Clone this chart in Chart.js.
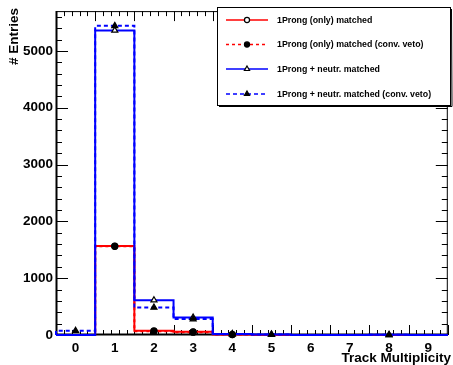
<!DOCTYPE html>
<html><head><meta charset="utf-8">
<script src="https://cdn.jsdelivr.net/npm/chart.js@4/dist/chart.umd.min.js"></script>
<style>html,body{margin:0;padding:0;background:#fff}#wrap{width:453px;height:365px}</style>
</head><body><div id="wrap"><canvas id="c" width="453" height="365"></canvas></div>
<script>
// ---- data ----
const categories = [0, 1, 2, 3, 4, 5, 6, 7, 8, 9];
const prongOnly = [0, 1565, 75, 55, 8, 0, 0, 0, 0, 0];
const prongOnlyVeto = [0, 1560, 65, 50, 7, 0, 0, 0, 0, 0];
const prongNeutr = [0, 5360, 612, 309, 18, 10, 0, 0, 3, 0];
const prongNeutrVeto = [75, 5440, 484, 280, 15, 8, 0, 0, 3, 0];
const seriesLabels = ['1Prong (only) matched', '1Prong (only) matched (conv. veto)', '1Prong + neutr. matched', '1Prong + neutr. matched (conv. veto)'];
const yTickValues = [0, 1000, 2000, 3000, 4000, 5000];
const xTickValues = categories;
const yMax = 5700;
const xAxisTitle = 'Track Multiplicity';
const yAxisTitle = '# Entries';

function stepPoints(vals) {
  const pts = [{x: categories[0] - 0.5, y: 0}];
  vals.forEach((v, i) => {
    pts.push({x: categories[i] - 0.5, y: v});
    pts.push({x: categories[i] + 0.5, y: v});
  });
  return pts;
}
function markerPoints(vals) {
  return vals.map((v, i) => ({x: categories[i], y: v})).filter(p => p.y > 0);
}

const styles = [
  {color: '#ff0000', dash: [], mk: 'circle', fill: '#ffffff'},
  {color: '#ff0000', dash: [3, 3], mk: 'circle', fill: '#000000'},
  {color: '#0000ff', dash: [], mk: 'triangle', fill: '#ffffff'},
  {color: '#0000ff', dash: [4, 3], mk: 'triangle', fill: '#000000'}
];
const allSeries = [prongOnly, prongOnlyVeto, prongNeutr, prongNeutrVeto];

const datasets = [];
allSeries.forEach((vals, k) => {
  const s = styles[k];
  datasets.push({
    label: seriesLabels[k], data: stepPoints(vals), tension: 0,
    borderColor: s.color, borderWidth: 2, borderDash: s.dash, pointRadius: 0,
    fill: false, clip: false, order: 10 - k
  });
});
allSeries.forEach((vals, k) => {
  const s = styles[k];
  datasets.push({
    label: seriesLabels[k] + ' markers', data: markerPoints(vals), showLine: false,
    pointStyle: s.mk, pointRadius: s.mk === 'circle' ? 3 : 3.5, pointBackgroundColor: s.fill,
    pointBorderColor: '#000', pointBorderWidth: 1.2, clip: false, order: 1 - k * 0.1
  });
});

const FONT = "'Liberation Sans', Arial, sans-serif";

const rootFrame = {
  id: 'rootFrame',
  beforeDatasetsDraw(chart) {
    const ctx = chart.ctx, a = chart.chartArea, xs = chart.scales.x, ys = chart.scales.y;
    ctx.save();
    ctx.strokeStyle = '#000';
    ctx.lineWidth = 1;
    ctx.strokeRect(a.left + 0.5, a.top + 0.5, a.right - a.left - 1, a.bottom - a.top - 1);
    ctx.beginPath();
    for (let v = 0; v <= yMax; v += 200) {
      const y = Math.round(ys.getPixelForValue(v)) + 0.5;
      const len = (v % 1000 === 0) ? 12 : 6;
      ctx.moveTo(a.left, y); ctx.lineTo(a.left + len, y);
      ctx.moveTo(a.right, y); ctx.lineTo(a.right - len, y);
    }
    for (let i = 0; i <= 50; i++) {
      const v = -0.5 + i * 0.2;
      const x = Math.round(xs.getPixelForValue(v)) + 0.5;
      const len = (i % 5 === 0) ? 10 : 5;
      ctx.moveTo(x, a.bottom); ctx.lineTo(x, a.bottom - len);
      ctx.moveTo(x, a.top); ctx.lineTo(x, a.top + len);
    }
    ctx.stroke();
    ctx.lineWidth = 2;
    ctx.beginPath();
    ctx.moveTo(a.left + 0.5, a.top); ctx.lineTo(a.left + 0.5, a.bottom);
    ctx.moveTo(a.left, a.bottom - 0.5); ctx.lineTo(a.right, a.bottom - 0.5);
    ctx.stroke();
    ctx.restore();
  },
  afterDraw(chart) {
    const ctx = chart.ctx;
    ctx.save();
    ctx.fillStyle = '#000';
    ctx.font = 'bold 13.5px ' + FONT;
    ctx.textAlign = 'right'; ctx.textBaseline = 'middle';
    ctx.fillText(xAxisTitle, 451, 358);
    ctx.save();
    ctx.translate(14, 8);
    ctx.rotate(-Math.PI / 2);
    ctx.textAlign = 'right'; ctx.textBaseline = 'middle';
    ctx.fillText(yAxisTitle, 0, 0);
    ctx.restore();
    // legend
    const L = 217, T = 7, R = 451, B = 106;
    ctx.fillStyle = '#fff';
    ctx.fillRect(L, T, R - L, B - T);
    ctx.strokeStyle = '#000'; ctx.lineWidth = 1;
    ctx.strokeRect(L + 0.5, T + 0.5, R - L - 1, B - T - 1);
    ctx.beginPath();
    ctx.moveTo(L + 2, B + 0.5); ctx.lineTo(R + 1, B + 0.5); ctx.lineTo(R + 0.5, T + 2);
    ctx.stroke();
    const rows = [20, 44.5, 69, 94];
    ctx.font = 'bold 8.8px ' + FONT;
    ctx.textAlign = 'left'; ctx.textBaseline = 'middle';
    for (let k = 0; k < 4; k++) {
      const ds = chart.data.datasets[k], mk = chart.data.datasets[k + 4];
      const y = rows[k];
      ctx.strokeStyle = ds.borderColor; ctx.lineWidth = 1.3;
      ctx.setLineDash(ds.borderDash);
      ctx.beginPath(); ctx.moveTo(226, y); ctx.lineTo(268, y); ctx.stroke();
      ctx.setLineDash([]);
      ctx.fillStyle = mk.pointBackgroundColor; ctx.strokeStyle = '#000'; ctx.lineWidth = 1.2;
      Chart.helpers.drawPoint(ctx, {pointStyle: mk.pointStyle, radius: mk.pointRadius * 0.85, borderWidth: 1.2, rotation: 0}, 247, y);
      ctx.fillStyle = '#000';
      ctx.fillText(seriesLabels[k], 277, y + 0.5);
    }
    ctx.restore();
  }
};

new Chart(document.getElementById('c'), {
  type: 'line',
  data: {datasets},
  options: {
    responsive: false, animation: false, devicePixelRatio: 1,
    layout: {padding: {top: 9, right: 2, left: 0, bottom: 0}},
    plugins: {legend: {display: false}, tooltip: {enabled: false}},
    scales: {
      x: {
        type: 'linear', min: -0.5, max: 9.5,
        afterBuildTicks: s => { s.ticks = xTickValues.map(v => ({value: v})); },
        afterFit: s => { s.height = 30; },
        grid: {display: false, drawTicks: false}, border: {display: false},
        ticks: {color: '#000', font: {family: FONT, size: 13.5, weight: 'bold'}, padding: 5, maxRotation: 0, autoSkip: false,
                callback: v => String(v)}
      },
      y: {
        type: 'linear', min: 0, max: yMax,
        afterBuildTicks: s => { s.ticks = yTickValues.map(v => ({value: v})); },
        afterFit: s => { s.width = 56; },
        grid: {display: false, drawTicks: false}, border: {display: false},
        ticks: {color: '#000', font: {family: FONT, size: 13.5, weight: 'bold'}, padding: 3, autoSkip: false,
                callback: v => String(v)}
      }
    }
  },
  plugins: [rootFrame]
});
</script></body></html>
